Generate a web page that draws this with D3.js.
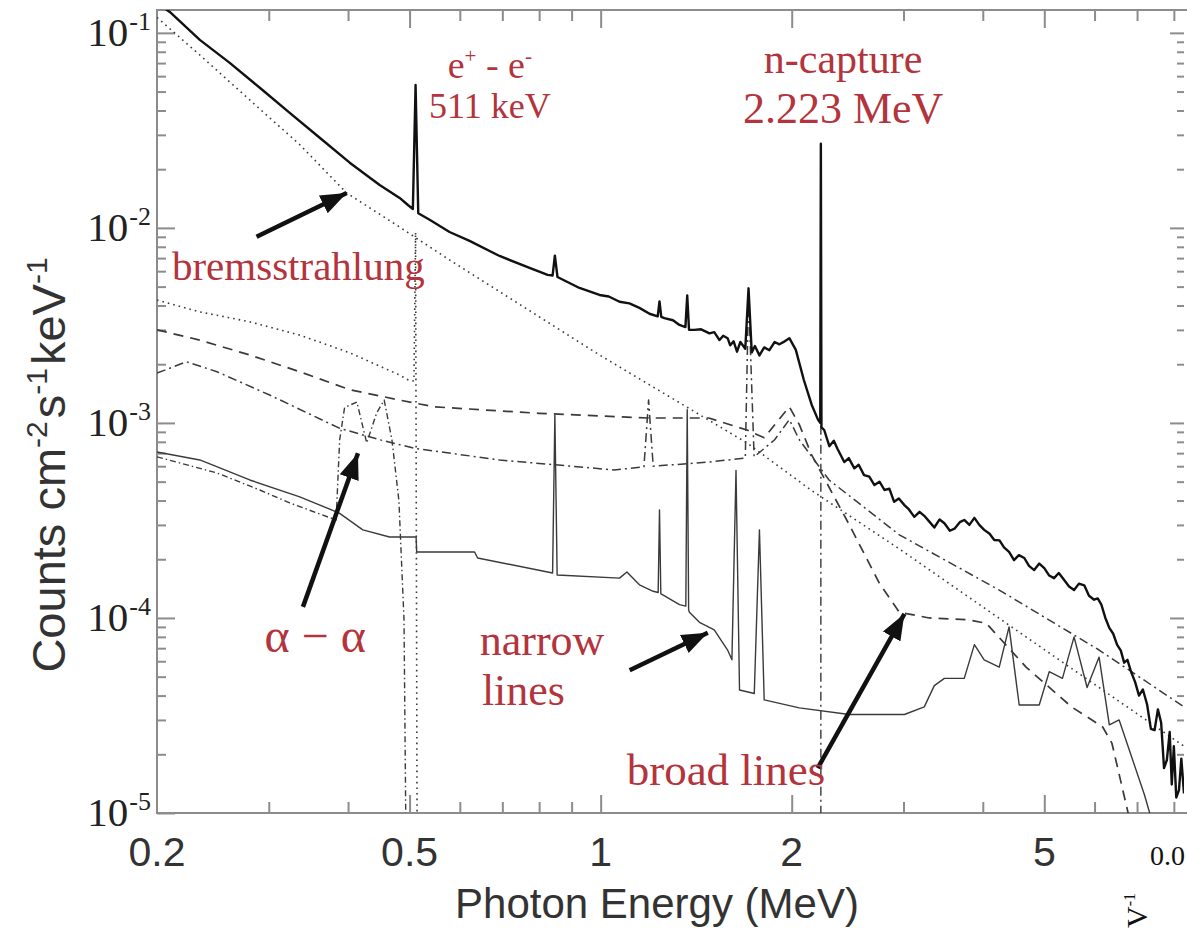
<!DOCTYPE html>
<html><head><meta charset="utf-8">
<script src="https://cdn.jsdelivr.net/npm/d3@7"></script>
<style>html,body{margin:0;padding:0;background:#fff;} svg{display:block;}</style>
</head><body>
<svg id="chart" width="1187" height="931"></svg>
<script>
// ---------------- data (energy in MeV, counts cm^-2 s^-1 keV^-1) ----------------
const totalSpectrum = [
 [0.200,0.142],[0.2095,0.128],[0.2336,0.0921],[0.2604,0.0702],[0.2904,0.0523],[0.3237,0.0389],
 [0.3609,0.0290],[0.4024,0.0216],[0.4486,0.0166],[0.4823,0.01425],[0.497,0.0131],[0.506,0.0125],
 [0.511,0.054],[0.516,0.0119],[0.5377,0.0110],[0.578,0.00953],[0.6216,0.00858],[0.693,0.00718],
 [0.7727,0.00623],[0.825,0.00574],[0.840,0.0057],[0.847,0.0072],[0.855,0.0056],[0.926,0.00492],
 [0.996,0.00453],[1.03,0.00445],[1.071,0.00418],[1.11,0.0041],[1.151,0.00389],[1.194,0.00363],[1.230,0.00352],[1.238,0.0042],
 [1.246,0.0035],[1.26,0.00345],[1.30,0.00336],[1.331,0.00318],[1.360,0.0031],[1.369,0.0045],[1.378,0.0030],
 [1.404,0.00300],[1.44,0.00302],[1.484,0.00288],[1.51,0.00292],[1.539,0.00266],[1.56,0.0028],[1.585,0.00272],
 [1.60,0.0025],[1.62,0.00262],[1.64,0.00232],[1.66,0.0026],[1.69,0.0024],[1.71,0.0049],[1.73,0.0023],
 [1.75,0.00248],[1.779,0.00222],[1.81,0.00244],[1.8445,0.00236],[1.88,0.0026],[1.9126,0.00253],
 [1.95,0.00262],[1.983,0.00272],[2.03,0.00237],[2.09,0.00166],[2.15,0.00124],[2.20,0.00104],[2.218,0.00100],
 [2.223,0.027],[2.228,0.00095],[2.25,0.00092],[2.2927,0.00076],[2.33,0.00081],[2.36,0.00074],[2.42,0.00063],
 [2.46,0.00066],[2.51,0.000585],[2.55,0.00061],[2.60,0.00054],[2.65,0.00053],[2.70,0.00048],[2.75,0.0005],
 [2.80,0.000453],[2.85,0.00046],[2.90,0.000394],[2.95,0.00041],[3.01,0.000379],
 [3.06,0.00036],[3.12,0.00033],[3.18,0.00035],[3.235,0.000334],[3.30,0.00031],[3.355,0.000291],[3.42,0.00032],
 [3.48,0.000306],[3.55,0.00028],[3.61,0.000287],[3.68,0.00031],[3.74,0.000318],[3.81,0.0003],
 [3.88,0.000326],[3.95,0.0003],[4.02,0.000283],[4.10,0.00027],[4.17,0.000251],[4.25,0.00025],[4.32,0.00023],
 [4.40,0.000218],[4.48,0.000198],[4.56,0.00021],[4.65,0.000203],[4.73,0.000185],
 [4.82,0.000176],[4.91,0.00019],[5.00,0.00018],[5.09,0.000165],[5.18,0.00016],[5.27,0.00017],[5.37,0.000157],
 [5.47,0.000145],[5.57,0.000139],[5.67,0.00015],[5.78,0.000147],[5.88,0.00013],
 [5.99,0.000124],[6.07,0.000126],[6.15,0.000117],[6.24,0.0001],[6.33,0.000089],[6.42,0.000083],[6.51,0.000073],
 [6.60,0.000068],[6.68,0.000059],[6.76,0.000061],[6.85,0.000053],[6.95,0.000047],
 [7.05,0.00004],[7.15,0.000043],[7.26,0.000036],[7.36,0.000027],[7.46,0.0000266],[7.55,0.000034],[7.64,0.000029],
 [7.72,0.000017],[7.80,0.0000187],[7.88,0.000026],[7.94,0.000014],[8.0,0.000022],[8.07,0.000012],
 [8.15,0.0000131],[8.22,0.000019],[8.3,0.0000126]
];
const bremsstrahlung = [
 [0.2,0.12],[0.2336,0.077],[0.28,0.0453],[0.3357,0.0267],[0.398,0.0151],[0.4823,0.0101],
 [0.578,0.00685],[0.727,0.00427],[0.996,0.00223],[1.331,0.00127],[1.70,0.00079],[2.15,0.00045],
 [2.955,0.000226],[4.44,0.00009],[6.10,0.000044],[8.3,0.000022]
];
const annihilation = [
 [0.2,0.00427],[0.2336,0.00371],[0.28,0.0033],[0.3357,0.00282],[0.4024,0.00229],[0.4823,0.00176],
 [0.498,0.00166],[0.508,0.00164],[0.511,0.0095],[0.514,0.000005]
];
const broadLines = [
 [0.2,0.0030],[0.2336,0.00266],[0.28,0.00223],[0.3357,0.00183],[0.4024,0.00148],[0.4823,0.00131],
 [0.546,0.00121],[0.80,0.00112],[1.185,0.00106],[1.48,0.00106],[1.70,0.00092],[1.81,0.00084],
 [1.983,0.00121],[2.056,0.00098],[2.15,0.000686],[2.465,0.0003],[2.748,0.000151],[2.955,0.000107],
 [3.294,0.0001],[3.78,0.000098],[4.05,0.000094],[4.68,0.000056],[5.52,0.000035],[6.18,0.0000276],
 [6.39,0.0000228],[6.63,0.0000136],[6.93,0.0000073]
];
const nuclearContinuum = [
 [0.2,0.0018],[0.2225,0.00206],[0.2486,0.00183],[0.301,0.00139],[0.3875,0.00094],[0.4486,0.00082],
 [0.51,0.00074],[0.693,0.000646],[1.05,0.000574],[1.17,0.000595],[1.19,0.00131],[1.21,0.0006],
 [1.48,0.00063],[1.69,0.00066],[1.71,0.0046],[1.745,0.00067],[1.88,0.00082],[1.983,0.00104],
 [2.056,0.00082],[2.29,0.00051],[2.955,0.000267],[4.246,0.000139],[6.10,0.0000685],[8.3,0.000035]
];
const alphaAlpha = [
 [0.2,0.00067],[0.2486,0.000554],[0.2904,0.000453],[0.3237,0.000389],[0.383,0.000318],[0.388,0.00082],
 [0.395,0.0012],[0.413,0.00128],[0.428,0.00079],[0.444,0.00113],[0.456,0.00131],[0.469,0.00082],
 [0.481,0.0004],[0.490,0.000098],[0.494,0.000005]
];
const neutronCapture = [[2.223,0.000005],[2.223,0.027]];
const narrowLines = [
 [0.2,0.00071],[0.2336,0.000646],[0.28,0.00051],[0.3357,0.000418],[0.3875,0.000345],[0.422,0.000283],
 [0.465,0.00026],[0.497,0.00026],[0.512,0.00026],[0.513,0.000218],[0.633,0.000218],[0.64,0.000203],
 [0.825,0.000172],[0.84,0.00017],[0.847,0.0011],[0.854,0.000166],[1.071,0.00016],[1.10,0.000172],
 [1.151,0.000148],[1.21,0.000137],[1.232,0.000135],[1.238,0.000358],[1.244,0.000133],[1.255,0.000131],
 [1.331,0.000117],[1.362,0.000115],[1.369,0.00117],[1.376,0.00011],[1.38,0.000107],[1.431,0.000095],
 [1.51,0.000087],[1.585,0.0000685],[1.61,0.000061],[1.634,0.00057],[1.655,0.0000427],[1.746,0.000041],
 [1.779,0.000283],[1.81,0.000038],[2.056,0.0000346],[2.465,0.000032],[3.01,0.000032],[3.235,0.000035],
 [3.355,0.000045],[3.48,0.000049],[3.74,0.000049],[3.88,0.000073],[4.02,0.000061],[4.246,0.000056],
 [4.40,0.00009],[4.565,0.0000358],[4.909,0.0000358],[5.09,0.000053],[5.34,0.000049],[5.57,0.00008],
 [5.84,0.000044],[6.10,0.000063],[6.33,0.0000283],[6.56,0.00003],[7.19,0.0000124],[7.46,0.0000082]
];
// axis ticks
const energyMajorTicks = [0.5, 1, 2, 5];
const energyMinorTicks = [0.3, 0.4, 0.6, 0.7, 0.8, 0.9, 3, 4, 6, 7, 8];
const energyTickLabels = [0.2, 0.5, 1, 2, 5];
const countExponents = [-5, -4, -3, -2, -1];
// annotations
const labelTexts = ["bremsstrahlung", "α − α", "narrow", "lines", "broad lines", "n-capture", "2.223 MeV", "511 keV"];
const labelAnchorsE = [0.334, 0.355, 0.645, 0.65, 1.099, 2.41, 2.41, 0.669];
const labelAnchorsC = [0.0054, 6.7e-5, 6.46e-5, 3.58e-5, 1.39e-5, 0.062, 0.0345, 0.0366];
const arrowTails = [[0.287, 0.0090], [0.3396, 1.14e-4], [1.111, 5.4e-5], [2.198, 1.70e-5]];
const arrowHeads = [[0.398, 0.0151], [0.4146, 7.0e-4], [1.475, 8.4e-5], [3.01, 1.05e-4]];

// ---------------- drawing ----------------
const W = 1187, H = 931;
const L = 157, R = 1184, T = 10, B = 813;
const svg = d3.select("#chart");
svg.append("rect").attr("width", W).attr("height", H).attr("fill", "#fff");

const x = d3.scaleLog().domain([0.2, 8.3]).range([L, R]);
const y = d3.scaleLog().domain([1e-5, 0.131]).range([B, T]);

const defs = svg.append("defs");
defs.append("clipPath").attr("id", "plotclip").append("rect")
  .attr("x", L).attr("y", T).attr("width", R - L).attr("height", B - T);
defs.append("marker").attr("id", "ah").attr("markerUnits", "userSpaceOnUse")
  .attr("markerWidth", 28).attr("markerHeight", 22).attr("refX", 26).attr("refY", 11)
  .attr("orient", "auto")
  .append("path").attr("d", "M0,1 L26,11 L0,21 Z").attr("fill", "#111");

const axisColor = "#8c8c8c";
const sans = "'Liberation Sans', Arial, Helvetica, sans-serif";
const serif = "'Liberation Serif', 'Times New Roman', Times, serif";

const yMinor = [];
countExponents.forEach(e => { for (let k = 2; k <= 9; k++) { const v = k * Math.pow(10, e); if (v <= 0.131) yMinor.push(v); } });
const yMajor = countExponents.map(e => Math.pow(10, e));

function styleAxis(g) {
  g.select(".domain").remove();
  g.selectAll(".tick line").attr("stroke", axisColor).attr("stroke-width", 2);
  g.selectAll(".tick text").remove();
}
svg.append("g").attr("transform", `translate(${L},0)`).call(d3.axisLeft(y).tickValues(yMajor).tickSize(-18).tickFormat("")).call(styleAxis);
svg.append("g").attr("transform", `translate(${L},0)`).call(d3.axisLeft(y).tickValues(yMinor).tickSize(-9).tickFormat("")).call(styleAxis);
svg.append("g").attr("transform", `translate(${R},0)`).call(d3.axisRight(y).tickValues(yMajor).tickSize(-14).tickFormat("")).call(styleAxis);
svg.append("g").attr("transform", `translate(${R},0)`).call(d3.axisRight(y).tickValues(yMinor).tickSize(-7).tickFormat("")).call(styleAxis);
svg.append("g").attr("transform", `translate(0,${B})`).call(d3.axisBottom(x).tickValues(energyMajorTicks).tickSize(-18).tickFormat("")).call(styleAxis);
svg.append("g").attr("transform", `translate(0,${B})`).call(d3.axisBottom(x).tickValues(energyMinorTicks).tickSize(-11).tickFormat("")).call(styleAxis);
svg.append("g").attr("transform", `translate(0,${T})`).call(d3.axisTop(x).tickValues(energyMajorTicks).tickSize(-18).tickFormat("")).call(styleAxis);
svg.append("g").attr("transform", `translate(0,${T})`).call(d3.axisTop(x).tickValues(energyMinorTicks).tickSize(-11).tickFormat("")).call(styleAxis);

svg.append("rect").attr("x", L).attr("y", T).attr("width", R - L + 10).attr("height", B - T)
  .attr("fill", "none").attr("stroke", axisColor).attr("stroke-width", 2);

// x labels
svg.append("g").selectAll("text").data(energyTickLabels).join("text")
  .attr("x", d => x(d)).attr("y", 866).attr("text-anchor", "middle")
  .attr("font-family", sans).attr("font-size", 41).attr("fill", "#333")
  .text(d => d);
// y labels
const yl = svg.append("g").selectAll("text").data(countExponents).join("text")
  .attr("x", 151).attr("y", d => y(Math.pow(10, d)) + 13).attr("text-anchor", "end")
  .attr("font-family", serif).attr("font-size", 41).attr("fill", "#222");
yl.append("tspan").text("10");
yl.append("tspan").attr("font-size", 26).attr("dx", 1).attr("dy", -16).text(d => d);

// titles
svg.append("text").attr("x", 657).attr("y", 918).attr("text-anchor", "middle")
  .attr("font-family", sans).attr("font-size", 42).attr("fill", "#333").text("Photon Energy (MeV)");
const yt = svg.append("text").attr("transform", "translate(65,465) rotate(-90)").attr("text-anchor", "middle")
  .attr("font-family", sans).attr("font-size", 47).attr("fill", "#333");
yt.append("tspan").text("Counts cm");
yt.append("tspan").attr("font-size", 30).attr("dy", -18).text("-2");
yt.append("tspan").attr("dy", 18).attr("dx", 3).text("s");
yt.append("tspan").attr("font-size", 30).attr("dy", -18).text("-1");
yt.append("tspan").attr("dy", 18).attr("dx", 3).text("keV");
yt.append("tspan").attr("font-size", 30).attr("dy", -18).text("-1");

// series
const line = d3.line().x(d => x(d[0])).y(d => y(d[1]));
const plot = svg.append("g").attr("clip-path", "url(#plotclip)");
const series = [
  {d: narrowLines, w: 1.4, dash: null, c: "#3a3a3a"},
  {d: alphaAlpha, w: 1.4, dash: "6 3 1.5 3", c: "#3a3a3a"},
  {d: nuclearContinuum, w: 1.5, dash: "9 4 2 4", c: "#3a3a3a"},
  {d: neutronCapture, w: 1.4, dash: "9 4 2 4", c: "#3a3a3a"},
  {d: broadLines, w: 1.7, dash: "10 7", c: "#3a3a3a"},
  {d: annihilation, w: 1.6, dash: "1.6 4", c: "#3a3a3a"},
  {d: bremsstrahlung, w: 1.6, dash: "1.6 4", c: "#3a3a3a"},
  {d: totalSpectrum, w: 2.4, dash: null, c: "#111"}
];
series.forEach(s => {
  plot.append("path").datum(s.d).attr("d", line).attr("fill", "none")
    .attr("stroke", s.c).attr("stroke-width", s.w).attr("stroke-linejoin", "round")
    .attr("stroke-dasharray", s.dash);
});

// arrows
svg.append("g").selectAll("line").data(d3.range(arrowTails.length)).join("line")
  .attr("x1", i => x(arrowTails[i][0])).attr("y1", i => y(arrowTails[i][1]))
  .attr("x2", i => x(arrowHeads[i][0])).attr("y2", i => y(arrowHeads[i][1]))
  .attr("stroke", "#111").attr("stroke-width", 4.5).attr("marker-end", "url(#ah)");

// red annotations
const red = "#b3343c";
const labelSizes = [41, 48, 44, 44, 45, 42, 44, 36];
const labelAnchor = ["middle", "middle", "start", "start", "start", "middle", "middle", "middle"];
svg.append("g").selectAll("text").data(d3.range(labelTexts.length)).join("text")
  .attr("x", i => x(labelAnchorsE[i])).attr("y", i => y(labelAnchorsC[i]))
  .attr("text-anchor", i => labelAnchor[i])
  .attr("font-family", serif).attr("font-size", i => labelSizes[i]).attr("fill", red)
  .text(i => labelTexts[i]);

const ep = svg.append("text").attr("x", x(0.669)).attr("y", y(0.0587)).attr("text-anchor", "middle")
  .attr("font-family", serif).attr("font-size", 38).attr("fill", red);
ep.append("tspan").text("e");
ep.append("tspan").attr("font-size", 21).attr("dy", -15).text("+");
ep.append("tspan").attr("dy", 15).text(" - e");
ep.append("tspan").attr("font-size", 21).attr("dy", -15).text("-");

// overlapping fragment of a neighbouring figure (bottom-right corner)
svg.append("rect").attr("x", 1117).attr("y", B + 1).attr("width", 80).attr("height", H - B).attr("fill", "#fff");
svg.append("text").attr("x", 1150).attr("y", 865).attr("font-family", serif).attr("font-size", 28).attr("fill", "#111").text("0.0");
const vf = svg.append("text").attr("transform", "translate(1147,928) rotate(-90)")
  .attr("font-family", serif).attr("font-size", 30).attr("fill", "#111");
vf.append("tspan").text("V");
vf.append("tspan").attr("font-size", 16).attr("dy", -12).text("-1");
</script>
</body></html>
